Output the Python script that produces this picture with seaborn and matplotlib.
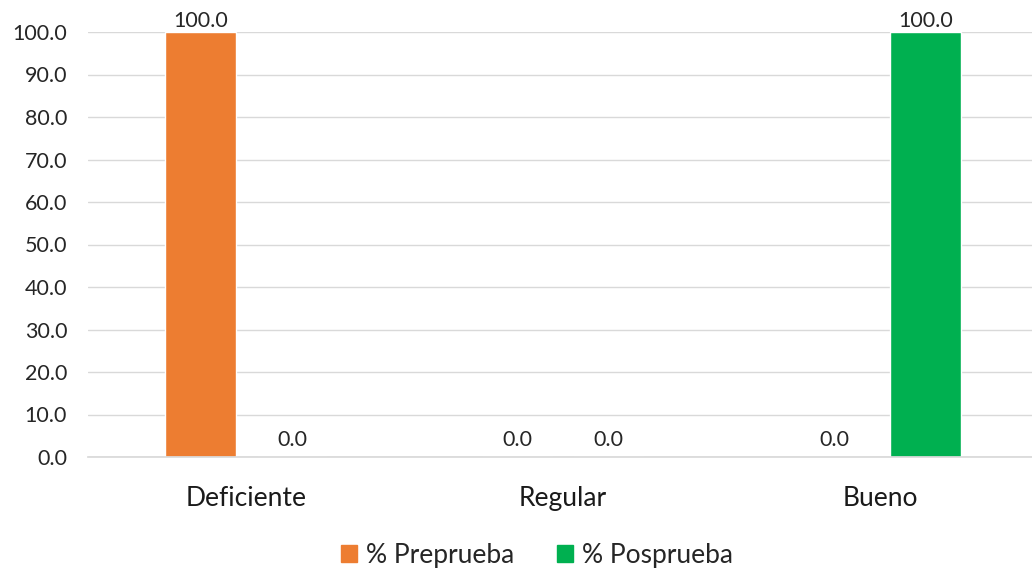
import matplotlib
matplotlib.use("Agg")
import matplotlib.pyplot as plt
import seaborn as sns
import pandas as pd
from matplotlib.patches import Patch

categories = ["Deficiente", "Regular", "Bueno"]
series_names = ["% Preprueba", "% Posprueba"]
preprueba = [100.0, 0.0, 0.0]
posprueba = [0.0, 0.0, 100.0]
colors = ["#ED7D31", "#00B050"]

df = pd.DataFrame({
    "cat": categories * 2,
    "serie": [series_names[0]] * 3 + [series_names[1]] * 3,
    "val": preprueba + posprueba,
})

sns.set_theme(style="white")
plt.rcParams["font.family"] = ["Lato", "DejaVu Sans"]

fig = plt.figure(figsize=(10.32, 5.70), dpi=100)
ax = fig.add_axes([88 / 1032, 1 - 457 / 570, (1032 - 88) / 1032, (457 - 32) / 570])

sns.barplot(data=df, x="cat", y="val", hue="serie", palette=colors,
            width=0.576, gap=0.222, dodge=True, ax=ax, legend=False,
            saturation=1, errorbar=None)

for cont in ax.containers:
    labels = ax.bar_label(cont, fmt="%.1f", padding=1, fontsize=15.5, color="#262626")
    for lab in labels:
        lab.set_clip_on(False)

# zero labels are placed higher in the reference
for t in ax.texts:
    if t.get_text() == "0.0":
        t.set_position((t.get_position()[0], 5.4))

ax.set_ylim(0, 100)
ax.set_xlim(-0.5, 2.48)
ax.set_yticks(range(0, 101, 10))
ax.set_yticklabels([f"{v:.1f}" for v in range(0, 101, 10)], fontsize=15.5, color="#262626")
ax.tick_params(axis="y", length=0, pad=15)
ax.tick_params(axis="x", length=0, pad=21, labelsize=19, labelcolor="#1a1a1a")
ax.set_xlabel("")
ax.set_ylabel("")
ax.grid(axis="y", color="#d9d9d9", linewidth=1)
ax.set_axisbelow(True)
for s in ["left", "right", "top"]:
    ax.spines[s].set_visible(False)
ax.spines["bottom"].set_color("#d9d9d9")

handles = [Patch(color=c, label=n) for c, n in zip(colors, series_names)]
fig.legend(handles=handles, loc="center", bbox_to_anchor=(537 / 1032, 1 - 555 / 570),
           ncol=2, frameon=False, fontsize=19, handlelength=0.6, handleheight=0.6,
           handletextpad=0.35, columnspacing=1.6)

fig.savefig("out.png", dpi=100)
